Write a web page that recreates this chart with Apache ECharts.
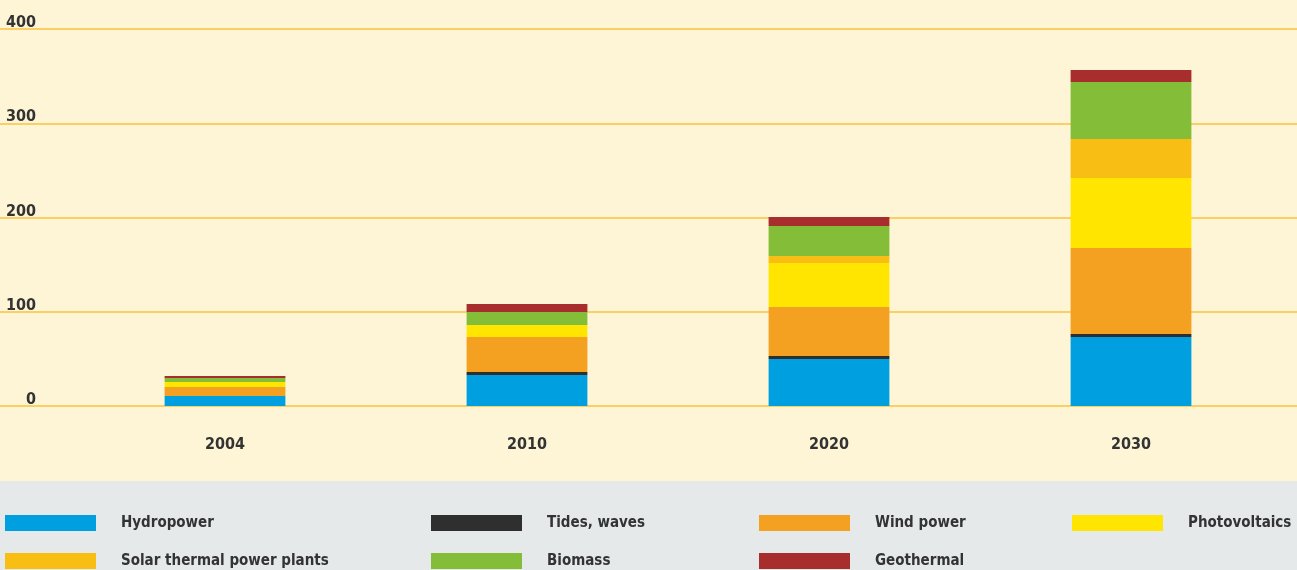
<!DOCTYPE html>
<html>
<head>
<meta charset="utf-8">
<script src="https://cdn.jsdelivr.net/npm/echarts@6/dist/echarts.min.js"></script>
<style>
  html, body { margin: 0; padding: 0; }
  #chart { width: 1297px; height: 570px; }
</style>
</head>
<body>
<div id="chart"></div>
<script>
var years = ['2004', '2010', '2020', '2030'];
var hydro = [10.6, 32.9, 49.9, 73.2];
var tides = [0, 3.2, 3.2, 3.2];
var wind = [9.5, 37.1, 52.0, 91.2];
var pv = [5.3, 12.7, 46.7, 74.3];
var solarThermal = [0, 0, 7.4, 41.4];
var biomass = [4.2, 13.8, 31.8, 60.5];
var geothermal = [2.1, 8.5, 9.5, 12.7];
var yTicks = [0, 100, 200, 300, 400];

var font = "'Liberation Sans Narrow', 'DejaVu Sans Condensed', sans-serif";
var textCol = '#333333';

var chart = echarts.init(document.getElementById('chart'));

var seriesDefs = [
    { name: 'Hydropower', data: hydro, color: '#00A0E0' },
    { name: 'Tides, waves', data: tides, color: '#2F2F2F' },
    { name: 'Wind power', data: wind, color: '#F4A021' },
    { name: 'Photovoltaics', data: pv, color: '#FFE500' },
    { name: 'Solar thermal power plants', data: solarThermal, color: '#F8BE14' },
    { name: 'Biomass', data: biomass, color: '#84BD37' },
    { name: 'Geothermal', data: geothermal, color: '#A82E2E' }
];

// legend positions (left, top) for each item
var legendPos = [
    [5, 515], [431, 515], [759, 515], [1072, 515],
    [5, 553], [431, 553], [759, 553]
];

var legends = seriesDefs.map(function (s, i) {
    return {
        data: [s.name],
        left: legendPos[i][0],
        top: legendPos[i][1],
        padding: 0,
        icon: 'rect',
        itemWidth: 91,
        itemHeight: 16,
        selectedMode: false,
        textStyle: {
            fontFamily: font,
            fontWeight: 'bold',
            fontSize: 15,
            color: textCol,
            padding: [0, 0, 0, 20]
        }
    };
});

var option = {
    animation: false,
    backgroundColor: '#E5E9EA',
    graphic: [{
        type: 'rect',
        z: -10,
        shape: { x: 0, y: 0, width: 1297, height: 481 },
        style: { fill: '#FDF5D5' }
    }],
    legend: legends,
    grid: [
        { left: 0, right: 0, top: 29, bottom: 164 },
        { left: 74, right: 15, top: 29, bottom: 164 }
    ],
    xAxis: [
        { type: 'value', gridIndex: 0, show: false, min: 0, max: 1 },
        {
            type: 'category',
            gridIndex: 1,
            data: years,
            axisLine: { show: false },
            axisTick: { show: false },
            axisLabel: {
                margin: 31,
                fontFamily: font,
                fontWeight: 'bold',
                fontSize: 16,
                color: textCol
            }
        }
    ],
    yAxis: [
        {
            type: 'value',
            gridIndex: 0,
            min: 0,
            max: 400,
            interval: 100,
            axisLine: { show: false },
            axisTick: { show: false },
            splitLine: { lineStyle: { color: '#F8C23C', width: 1.5 } },
            axisLabel: {
                inside: true,
                margin: 36,
                align: 'right',
                verticalAlign: 'bottom',
                lineHeight: 12,
                fontFamily: font,
                fontWeight: 'bold',
                fontSize: 16,
                color: textCol,
                formatter: function (v) { return yTicks.indexOf(v) >= 0 ? String(v) : ''; }
            }
        },
        { type: 'value', gridIndex: 1, show: false, min: 0, max: 400 }
    ],
    series: seriesDefs.map(function (s) {
        return {
            name: s.name,
            type: 'bar',
            stack: 'total',
            xAxisIndex: 1,
            yAxisIndex: 1,
            barWidth: '40%',
            itemStyle: { color: s.color },
            data: s.data
        };
    })
};

chart.setOption(option);
</script>
</body>
</html>
